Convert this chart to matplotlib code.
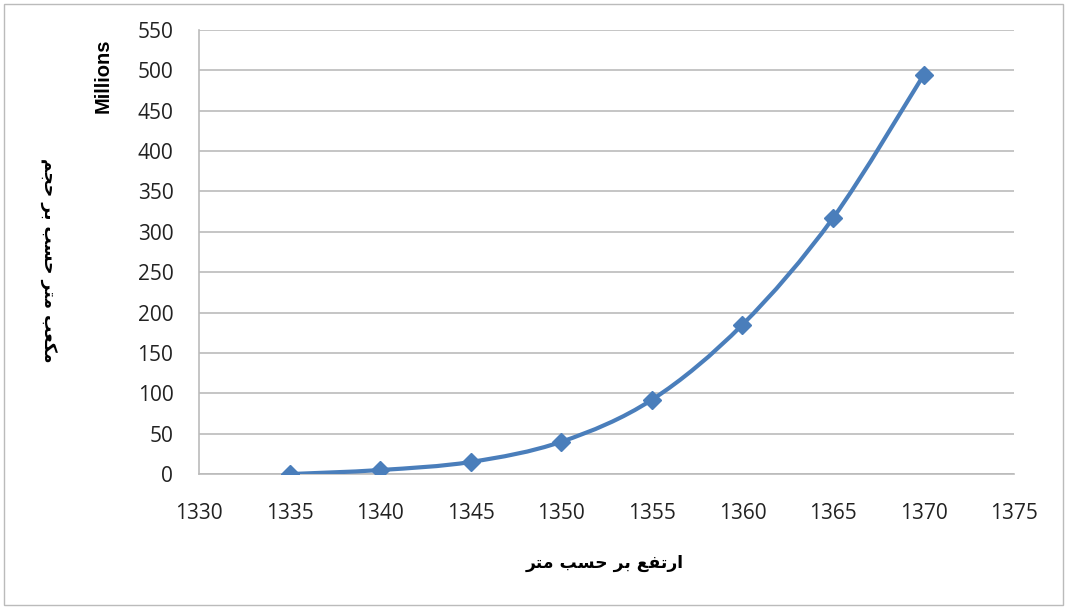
import numpy as np
import matplotlib.pyplot as plt
from matplotlib.path import Path
from matplotlib.patches import PathPatch, Rectangle

elevation = [1335, 1340, 1345, 1350, 1355, 1360, 1365, 1370]
volume_millions = [0, 5, 15, 40, 92, 185, 317, 494]
x_ticks = [1330, 1335, 1340, 1345, 1350, 1355, 1360, 1365, 1370, 1375]
y_ticks = [0, 50, 100, 150, 200, 250, 300, 350, 400, 450, 500, 550]
x_title = 'ارتفع بر حسب متر'
y_title = 'حجم بر حسب متر مکعب'

# presentation forms: isolated, final, initial, medial
forms = {
    'ا': ('\uFE8D', '\uFE8E', None, None),
    'ر': ('\uFEAD', '\uFEAE', None, None),
    'ت': ('\uFE95', '\uFE96', '\uFE97', '\uFE98'),
    'ف': ('\uFED1', '\uFED2', '\uFED3', '\uFED4'),
    'ع': ('\uFEC9', '\uFECA', '\uFECB', '\uFECC'),
    'ب': ('\uFE8F', '\uFE90', '\uFE91', '\uFE92'),
    'ح': ('\uFEA1', '\uFEA2', '\uFEA3', '\uFEA4'),
    'س': ('\uFEB1', '\uFEB2', '\uFEB3', '\uFEB4'),
    'م': ('\uFEE1', '\uFEE2', '\uFEE3', '\uFEE4'),
    'ج': ('\uFE9D', '\uFE9E', '\uFE9F', '\uFEA0'),
    'ک': ('\uFB8E', '\uFB8F', '\uFB90', '\uFB91'),
}


def shape(text, rtl_words=True):
    out = []
    for word in text.split(' '):
        res = []
        for i, ch in enumerate(word):
            f = forms[ch]
            prev_joins = i > 0 and forms[word[i - 1]][2] is not None
            next_joins = i < len(word) - 1 and f[2] is not None
            if prev_joins and next_joins:
                res.append(f[3])
            elif prev_joins:
                res.append(f[1])
            elif next_joins:
                res.append(f[2])
            else:
                res.append(f[0])
        out.append(''.join(res)[::-1])
    if rtl_words:
        out = out[::-1]
    return ' '.join(out)


def smooth_path(xs, ys):
    # excel style smoothed line as cubic bezier segments
    pts = np.column_stack([xs, ys]).astype(float)
    verts = [pts[0]]
    codes = [Path.MOVETO]
    n = len(pts)
    for i in range(n - 1):
        p0 = pts[max(i - 1, 0)]
        p1 = pts[i]
        p2 = pts[i + 1]
        p3 = pts[min(i + 2, n - 1)]
        c1 = p1 + (p2 - p0) / 6
        c2 = p2 - (p3 - p1) / 6
        verts += [c1, c2, p2]
        codes += [Path.CURVE4] * 3
    return Path(verts, codes)


fig = plt.figure(figsize=(10.65, 6.07), dpi=100)
ax = fig.add_axes([0.1869, 0.219, 0.7653, 0.7316])

line_color = '#4A7EBB'
ax.add_patch(PathPatch(smooth_path(elevation, volume_millions), fill=False,
                       edgecolor=line_color, lw=3, zorder=3))
ax.plot(elevation, volume_millions, ls='none', marker='D', ms=9.5,
        color=line_color, zorder=4)

ax.set_xlim(1330, 1375)
ax.set_ylim(0, 550)
ax.set_xticks(x_ticks)
ax.set_yticks(y_ticks)
ax.tick_params(length=0, labelsize=15, colors='#222222')
ax.tick_params(axis='x', pad=21)
ax.tick_params(axis='y', pad=18.5)
for lab in ax.get_xticklabels() + ax.get_yticklabels():
    lab.set_fontfamily('Open Sans')
ax.grid(axis='y', color='#BBBBBB', lw=1.2)
ax.set_axisbelow(True)
for s in ['top', 'right']:
    ax.spines[s].set_visible(False)
for s in ['left', 'bottom']:
    ax.spines[s].set_color('#BBBBBB')
    ax.spines[s].set_linewidth(1.2)

fig.text(0.568, 0.073, shape(x_title), ha='center', va='center',
         fontsize=12.3, fontweight='bold', family=['DejaVu Sans'])
fig.text(0.045, 0.572, shape(y_title, rtl_words=False), ha='center',
         va='center', rotation=270, fontsize=12.3, fontweight='bold',
         family=['DejaVu Sans'])
fig.text(0.0967, 0.876, 'Millions', ha='center', va='center', rotation=90,
         fontsize=14.5, fontweight='bold', family=['Liberation Sans'])

fig.patches.append(Rectangle((0.004, 0.004), 0.994, 0.989,
                             transform=fig.transFigure, fill=False,
                             edgecolor='#BBBBBB', lw=1))

fig.savefig('out.png', dpi=100)
